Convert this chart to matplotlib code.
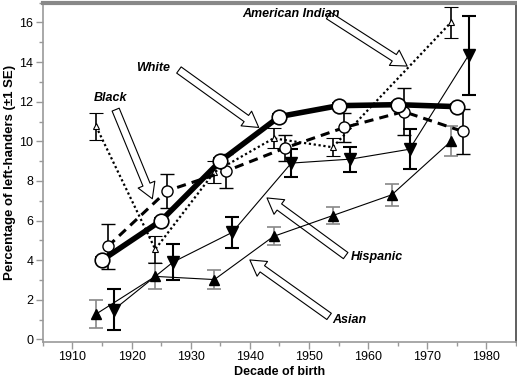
import numpy as np
import matplotlib.pyplot as plt
from matplotlib.ticker import MultipleLocator

plt.rcParams['font.family'] = ['Liberation Sans', 'DejaVu Sans']

# data
white_x = [1915, 1925, 1935, 1945, 1955, 1965, 1975]
white_y = [4.0, 6.0, 9.0, 11.25, 11.8, 11.85, 11.75]
white_e = [0.15, 0.15, 0.15, 0.15, 0.15, 0.15, 0.15]

black_x = [1916, 1926, 1936, 1946, 1956, 1966, 1976]
black_y = [4.7, 7.5, 8.5, 9.67, 10.7, 11.5, 10.5]
black_e = [1.15, 0.85, 0.85, 0.66, 0.74, 1.2, 1.13]

amind_x = [1914, 1924, 1934, 1944, 1954, 1974]
amind_y = [10.75, 4.55, 8.45, 10.15, 9.7, 16.0]
amind_e = [0.7, 0.67, 0.55, 0.5, 0.45, 0.8]

hisp_x = [1917, 1927, 1937, 1947, 1957, 1967, 1977]
hisp_y = [1.5, 3.9, 5.4, 8.9, 9.1, 9.6, 14.35]
hisp_e = [1.05, 0.9, 0.8, 0.7, 0.63, 1.0, 2.0]

asian_x = [1914, 1924, 1934, 1944, 1954, 1964, 1974]
asian_y = [1.28, 3.18, 3.02, 5.2, 6.25, 7.3, 10.0]
asian_e = [0.7, 0.66, 0.5, 0.46, 0.42, 0.57, 0.75]

# labels: text, text pos, arrow tail, arrow tip
labels = [
    ('American Indian', (1946.9, 16.45), (1953.3, 16.35), (1966.6, 13.8)),
    ('White', (1923.6, 13.7), (1928.0, 13.6), (1941.5, 10.7)),
    ('Black', (1916.4, 12.2), (1917.3, 11.6), (1923.5, 7.1)),
    ('Hispanic', (1961.4, 4.15), (1956.2, 4.23), (1942.9, 7.14)),
    ('Asian', (1956.8, 0.99), (1953.4, 1.16), (1940.0, 4.01)),
]

fig = plt.figure(figsize=(5.17, 3.81), dpi=100)
ax = fig.add_axes([0.083, 0.103, 0.915, 0.890])

# Asian
ax.errorbar(asian_x, asian_y, yerr=asian_e, fmt='^-', color='black', lw=0.8,
            ms=7.5, ecolor='#888888', elinewidth=1.2, capsize=5, capthick=1.2, zorder=3)
# Hispanic
ax.errorbar(hisp_x, hisp_y, yerr=hisp_e, fmt='v-', color='black', lw=0.8,
            ms=9, ecolor='black', elinewidth=1.5, capsize=5, capthick=1.5, zorder=3)
# American Indian
ax.errorbar(amind_x, amind_y, yerr=amind_e, fmt='^', color='black', ls=(0, (1, 1.2)),
            lw=1.6, ms=5, mfc='white', mec='black', mew=0.8, ecolor='black',
            elinewidth=1.2, capsize=5, capthick=1.2, zorder=4)
# Black
ax.errorbar(black_x, black_y, yerr=black_e, fmt='o', color='black', ls=(0, (3, 2)),
            lw=2.2, ms=8, mfc='white', mec='black', mew=1.0, ecolor='black',
            elinewidth=1.2, capsize=5, capthick=1.2, zorder=5)
# White
ax.errorbar(white_x, white_y, yerr=white_e, fmt='o-', color='black', lw=4,
            ms=10.5, mfc='white', mec='black', mew=1.2, ecolor='black',
            elinewidth=1.2, capsize=5, zorder=6)

for name, tpos, tail, tip in labels:
    ax.annotate('', xy=tip, xytext=tail,
                arrowprops=dict(facecolor='white', edgecolor='black', lw=0.8,
                                width=5.5, headwidth=13, headlength=11, shrink=0),
                zorder=2)
    ax.text(tpos[0], tpos[1], name, fontsize=9, fontweight='bold', style='italic',
            ha='center', va='center', zorder=7)

ax.set_xlim(1905, 1985)
ax.set_ylim(-0.12, 17)
ax.xaxis.set_minor_locator(MultipleLocator(5))
ax.yaxis.set_minor_locator(MultipleLocator(1))
ax.set_xticks(range(1910, 1990, 10))
ax.set_yticks(range(0, 18, 2))
ax.tick_params(which='both', direction='out', color='#999999', labelsize=9, pad=2)
ax.tick_params(which='major', length=5, width=1)
ax.tick_params(which='minor', length=3, width=1)

for s in ['left', 'bottom']:
    ax.spines[s].set_color('#999999')
    ax.spines[s].set_linewidth(1.2)
ax.spines['top'].set_color('#888888')
ax.spines['top'].set_linewidth(3)
ax.spines['right'].set_color('#444444')
ax.spines['right'].set_linewidth(1.2)

ax.set_xlabel('Decade of birth', fontsize=9, fontweight='bold', labelpad=2)
ax.set_ylabel('Percentage of left-handers (\u00b11 SE)', fontsize=9.5, fontweight='bold', labelpad=2)

plt.savefig('out.png', dpi=100)
